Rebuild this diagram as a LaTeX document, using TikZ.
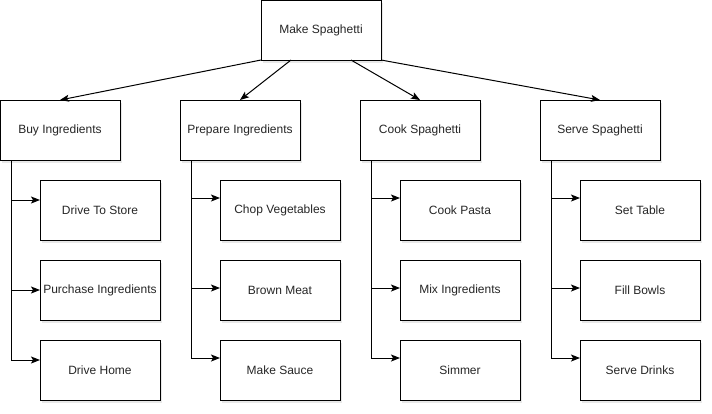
\documentclass[tikz,border=0pt]{standalone}
\usepackage{fontspec}
\setmainfont{Liberation Sans}
\usetikzlibrary{arrows.meta,shadows}
\tikzset{
  box/.style={draw=black, line width=1pt, fill=white, minimum width=120pt, minimum height=60pt,
    inner sep=0pt, outer sep=0pt, font=\fontsize{12}{14}\selectfont, text=black!85,
    drop shadow={shadow xshift=2pt, shadow yshift=-2.5pt, opacity=0.18, fill=gray}},
  arr/.style={draw=black, line width=1pt, -{Stealth[length=9pt,width=7pt,inset=2pt]}},
  link/.style={draw=black, line width=1pt, -{Stealth[length=9pt,width=7pt,inset=2pt]}},
}
\begin{document}
\begin{tikzpicture}[x=1pt,y=-1pt]
\useasboundingbox (0,0) rectangle (712,413);
\node[box] (make) at (321,30) {Make Spaghetti};
\node[box] (buy) at (60,130) {Buy Ingredients};
\node[box] (prep) at (240,130) {Prepare Ingredients};
\node[box] (cook) at (420,130) {Cook Spaghetti};
\node[box] (serve) at (600,130) {Serve Spaghetti};
\node[box] (b1) at (100,210) {Drive To Store};
\node[box] (b2) at (100,290) {Purchase Ingredients};
\node[box] (b3) at (100,370) {Drive Home};
\node[box] (p1) at (280,210) {Chop Vegetables};
\node[box] (p2) at (280,290) {Brown Meat};
\node[box] (p3) at (280,370) {Make Sauce};
\node[box] (k1) at (460,210) {Cook Pasta};
\node[box] (k2) at (460,290) {Mix Ingredients};
\node[box] (k3) at (460,370) {Simmer};
\node[box] (s1) at (640,210) {Set Table};
\node[box] (s2) at (640,290) {Fill Bowls};
\node[box] (s3) at (640,370) {Serve Drinks};
% top arrows
\draw[arr] (make.south west) -- (buy.north);
\draw[arr] ([xshift=30pt]make.south west) -- (prep.north);
\draw[arr] ([xshift=-30pt]make.south east) -- (cook.north);
\draw[arr] (make.south east) -- (serve.north);
% trunks
\coordinate (tb) at ([xshift=11pt]buy.south west);
\coordinate (tp) at ([xshift=11pt]prep.south west);
\coordinate (tk) at ([xshift=11pt]cook.south west);
\coordinate (ts) at ([xshift=11pt]serve.south west);
\draw[link] (tb) |- ([yshift=10pt]b1.west);
\draw[link] (tb) |- (b2.west);
\draw[link] (tb) |- ([yshift=10pt]b3.west);
\draw[link] (tp) |- ([yshift=12pt]p1.west);
\draw[link] (tp) |- ([yshift=2pt]p2.west);
\draw[link] (tp) |- ([yshift=12pt]p3.west);
\draw[link] (tk) |- ([yshift=12pt]k1.west);
\draw[link] (tk) |- ([yshift=2pt]k2.west);
\draw[link] (tk) |- ([yshift=12pt]k3.west);
\draw[link] (ts) |- ([yshift=12pt]s1.west);
\draw[link] (ts) |- ([yshift=2pt]s2.west);
\draw[link] (ts) |- ([yshift=12pt]s3.west);
\end{tikzpicture}
\end{document}
